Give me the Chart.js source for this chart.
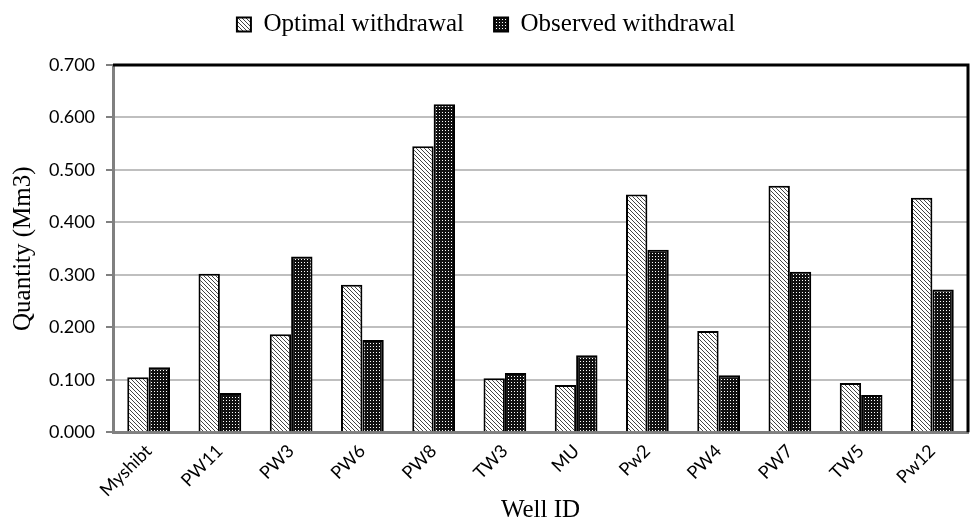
<!DOCTYPE html>
<html>
<head>
<meta charset="utf-8">
<script src="https://cdn.jsdelivr.net/npm/chart.js@4"></script>
<style>
  html, body { margin: 0; padding: 0; background: #fff; }
  #wrap { width: 971px; height: 523px; position: relative; }
</style>
</head>
<body>
<div id="wrap"><canvas id="chart"></canvas></div>
<script>
// Well IDs along the x axis
const wells = ['Myshibt', 'PW11', 'PW3', 'PW6', 'PW8', 'TW3', 'MU', 'Pw2', 'PW4', 'PW7', 'TW5', 'Pw12'];

// Withdrawal quantities in Mm3
const optimal = [0.105, 0.302, 0.187, 0.281, 0.545, 0.103, 0.090, 0.453, 0.193, 0.470, 0.094, 0.447];
const observed = [0.124, 0.075, 0.335, 0.176, 0.625, 0.113, 0.147, 0.348, 0.109, 0.306, 0.071, 0.272];

const yTicks = { min: 0, max: 0.7, step: 0.1 };

// hatch fills, like the old excel patterns
function diagPattern() {
  const c = document.createElement('canvas');
  c.width = 4; c.height = 4;
  const g = c.getContext('2d');
  g.fillStyle = '#fff';
  g.fillRect(0, 0, 4, 4);
  g.fillStyle = '#444';
  for (let i = 0; i < 4; i++) g.fillRect(i, i, 1, 1);
  return g.createPattern(c, 'repeat');
}

function dotPattern() {
  const c = document.createElement('canvas');
  c.width = 3; c.height = 3;
  const g = c.getContext('2d');
  g.fillStyle = '#111';
  g.fillRect(0, 0, 3, 3);
  g.fillStyle = '#fff';
  g.fillRect(1, 1, 1, 1);
  return g.createPattern(c, 'repeat');
}

// black top/right frame of the plot area
const frame = {
  id: 'frame',
  afterDraw(chart) {
    const { ctx, chartArea: a } = chart;
    ctx.save();
    ctx.strokeStyle = '#000';
    ctx.lineWidth = 3;
    ctx.beginPath();
    ctx.moveTo(a.left, a.top);
    ctx.lineTo(a.right, a.top);
    ctx.lineTo(a.right, a.bottom);
    ctx.stroke();
    ctx.restore();
  }
};

// fix legend height so the plot starts where it should
const legendHeight = {
  id: 'legendHeight',
  beforeInit(chart) {
    const fit = chart.legend.fit;
    chart.legend.fit = function () {
      fit.call(this);
      this.height = 83;
    };
  }
};

const ctx = document.getElementById('chart').getContext('2d');

new Chart(ctx, {
  type: 'bar',
  data: {
    labels: wells,
    datasets: [{
      label: 'Optimal withdrawal',
      data: optimal,
      backgroundColor: diagPattern(),
      borderColor: '#000',
      borderWidth: 2
    }, {
      label: 'Observed withdrawal',
      data: observed,
      backgroundColor: dotPattern(),
      borderColor: '#000',
      borderWidth: 2
    }]
  },
  options: {
    responsive: true,
    maintainAspectRatio: false,
    animation: false,
    layout: { autoPadding: false, padding: { left: 4, right: 3, top: -18, bottom: 0 } },
    datasets: {
      bar: { categoryPercentage: 0.6, barPercentage: 1.0 }
    },
    scales: {
      x: {
        grid: { display: false },
        border: { color: '#808080', width: 3 },
        ticks: {
          color: '#000',
          font: { family: 'Lato', size: 18 },
          minRotation: 45,
          maxRotation: 45,
          padding: 0
        },
        title: {
          display: true,
          text: 'Well ID',
          color: '#000',
          font: { family: 'Liberation Serif', size: 25, lineHeight: 1 },
          padding: { top: -3, bottom: 0 }
        }
      },
      y: {
        min: yTicks.min,
        max: yTicks.max,
        grid: { color: '#bfbfbf', lineWidth: 2, tickLength: 7, tickColor: '#808080' },
        border: { color: '#808080', width: 3 },
        ticks: {
          stepSize: yTicks.step,
          color: '#000',
          font: { family: 'Lato', size: 18 },
          padding: 11,
          callback: v => v.toFixed(3)
        },
        title: {
          display: true,
          text: 'Quantity (Mm3)',
          color: '#000',
          font: { family: 'Liberation Serif', size: 25 },
          padding: { top: 4, bottom: 0 }
        }
      }
    },
    plugins: {
      legend: {
        position: 'top',
        labels: {
          color: '#000',
          boxWidth: 14,
          boxHeight: 14,
          padding: 30,
          font: { family: 'Liberation Serif', size: 25 }
        }
      },
      tooltip: { enabled: false }
    }
  },
  plugins: [frame, legendHeight]
});
</script>
</body>
</html>
